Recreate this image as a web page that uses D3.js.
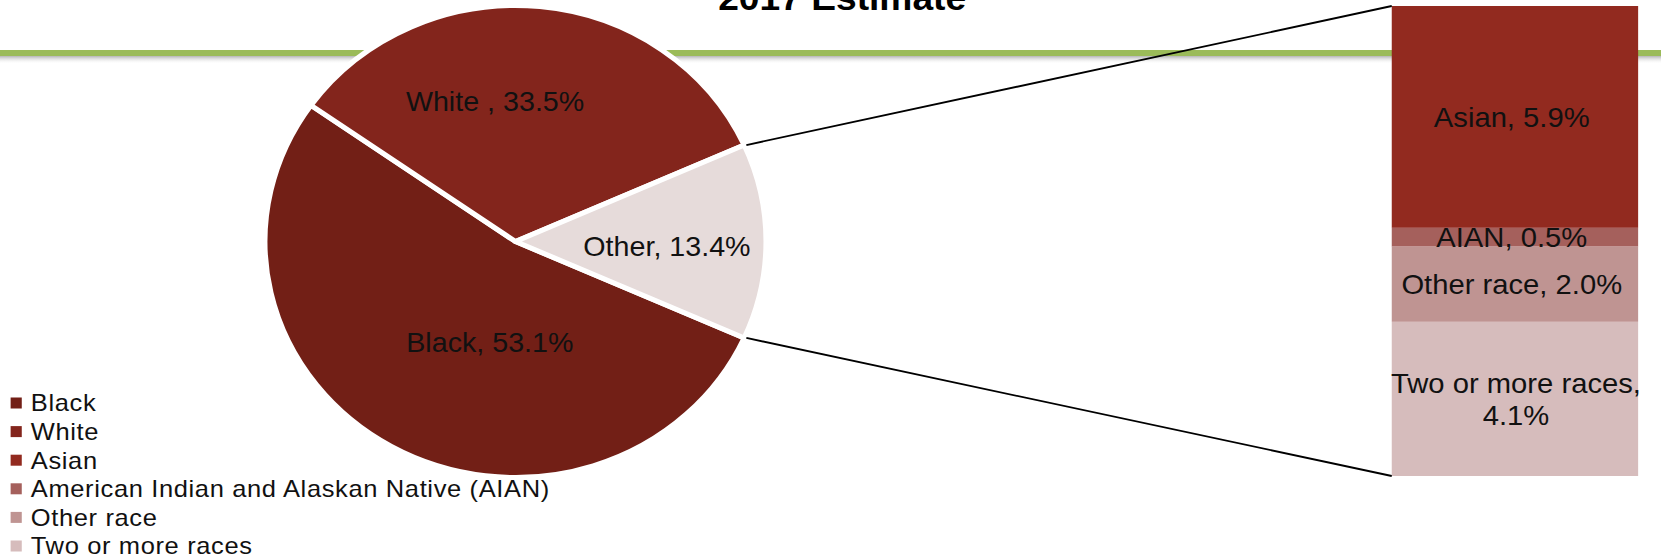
<!DOCTYPE html>
<html>
<head>
<meta charset="utf-8">
<script src="https://cdn.jsdelivr.net/npm/d3@7"></script>
<style>
  html, body { margin: 0; padding: 0; background: #ffffff; }
  svg { display: block; font-family: "Liberation Sans", Arial, sans-serif; }
</style>
</head>
<body>
<svg id="chart" width="1661" height="560"></svg>
<script>
// Population shares by race, 2017 estimate
const titleText = "2017 Estimate";

const pieCategories = ["Black", "White", "Other"];
const pieValues = [53.1, 33.5, 13.4];
const pieLabelNames = ["Black", "White ", "Other"];

const barCategories = ["Asian", "AIAN", "Other race", "Two or more races"];
const barValues = [5.9, 0.5, 2.0, 4.1];

const legendLabels = [
  "Black",
  "White",
  "Asian",
  "American Indian and Alaskan Native (AIAN)",
  "Other race",
  "Two or more races"
];

const pieColors = ["#721f16", "#83251c", "#e6dbda"];
const barColors = ["#922a1f", "#a5605c", "#bf9492", "#d6bcbc"];
const legendColors = ["#721f16", "#83251c", "#922a1f", "#a5605c", "#bf9492", "#d6bcbc"];

// ---- layout ----
const W = 1661, H = 560;
const stretchX = 1.062;            // horizontal stretch applied to the whole drawing
const cx = 485.4, cy = 241.5, R = 236;
const barX = 1310.5, barW = 232, barTop = 6, barBottom = 476;
const fmt = d3.format(".1f");

const svg = d3.select("#chart");

// header rule with a soft shadow beneath it
const defs = svg.append("defs");
const grad = defs.append("linearGradient")
  .attr("id", "ruleShadow").attr("x1", 0).attr("y1", 0).attr("x2", 0).attr("y2", 1);
grad.append("stop").attr("offset", "0%").attr("stop-color", "#b5b5b5");
grad.append("stop").attr("offset", "100%").attr("stop-color", "#ffffff").attr("stop-opacity", 0);

svg.append("rect").attr("x", 0).attr("y", 56).attr("width", W).attr("height", 8)
  .attr("fill", "url(#ruleShadow)");
svg.append("rect").attr("x", 0).attr("y", 50).attr("width", W).attr("height", 6)
  .attr("fill", "#9bbb59");

const g = svg.append("g").attr("transform", `scale(${stretchX},1)`);

// title (sits partly above the top edge)
g.append("text")
  .attr("x", 793).attr("y", 10)
  .attr("text-anchor", "middle")
  .attr("font-weight", "bold")
  .attr("font-size", 35)
  .attr("fill", "#000")
  .text(titleText);

// ---- pie ----
const total = d3.sum(pieValues);
const otherShare = pieValues[pieValues.length - 1] / total;
// rotate so the last slice ("Other") is centred on the 3 o'clock direction
const start = Math.PI / 2 + Math.PI * otherShare;
const pie = d3.pie().sort(null).value(d => d)
  .startAngle(start).endAngle(start + 2 * Math.PI);
const arcs = pie(pieValues);
const arc = d3.arc().innerRadius(0).outerRadius(R);
const labelArc = d3.arc().innerRadius(0).outerRadius(R * 1.2);

const pieG = g.append("g").attr("transform", `translate(${cx},${cy})`);
pieG.selectAll("path.slice")
  .data(arcs)
  .join("path")
  .attr("class", "slice")
  .attr("d", arc)
  .attr("fill", (d, i) => pieColors[i])
  .attr("stroke", "#ffffff")
  .attr("stroke-width", 5)
  .attr("stroke-linejoin", "round");

// label placement offsets from each slice centroid
const pieLabelShift = [[46, -22], [-33, 1], [1, 5]];
pieG.selectAll("text.pielabel")
  .data(arcs)
  .join("text")
  .attr("class", "pielabel")
  .attr("x", (d, i) => labelArc.centroid(d)[0] + pieLabelShift[i][0])
  .attr("y", (d, i) => labelArc.centroid(d)[1] + pieLabelShift[i][1])
  .attr("dy", "0.35em")
  .attr("text-anchor", "middle")
  .attr("font-size", 27)
  .attr("fill", "#111")
  .text((d, i) => `${pieLabelNames[i]}, ${fmt(pieValues[i])}%`);

// ---- stacked bar of the "Other" breakdown ----
const barTotal = d3.sum(barValues);
const y = d3.scaleLinear().domain([0, barTotal]).range([barTop, barBottom]);
const cum = d3.cumsum(barValues);
const segs = barValues.map((v, i) => ({ v, i, y0: i === 0 ? 0 : cum[i - 1], y1: cum[i] }));

g.selectAll("rect.seg")
  .data(segs)
  .join("rect")
  .attr("class", "seg")
  .attr("x", barX)
  .attr("width", barW)
  .attr("y", d => y(d.y0))
  .attr("height", d => y(d.y1) - y(d.y0))
  .attr("fill", d => barColors[d.i]);

// connector lines from the "Other" slice to the bar
const otherArc = arcs[arcs.length - 1];
const edgePt = a => [cx + R * Math.sin(a), cy - R * Math.cos(a)];
const topPt = edgePt(otherArc.startAngle);
const botPt = edgePt(otherArc.endAngle);
const lineGen = d3.line();
g.append("path")
  .attr("d", lineGen([[topPt[0] + 2, topPt[1]], [barX, y(0)]]))
  .attr("stroke", "#000").attr("stroke-width", 1.8).attr("fill", "none");
g.append("path")
  .attr("d", lineGen([[botPt[0] + 2, botPt[1]], [barX, y(barTotal)]]))
  .attr("stroke", "#000").attr("stroke-width", 1.8).attr("fill", "none");

// bar labels, wrapped after the comma when too wide for the bar
const barLabels = g.selectAll("text.barlabel")
  .data(segs)
  .join("text")
  .attr("class", "barlabel")
  .attr("text-anchor", "middle")
  .attr("font-size", 27.5)
  .attr("fill", "#111");

barLabels.each(function (d) {
  const t = d3.select(this);
  const full = `${barCategories[d.i]}, ${fmt(d.v)}%`;
  const xMid = barX + barW / 2 - 3;
  const yMid = (y(d.y0) + y(d.y1)) / 2;
  t.text(full).attr("x", xMid).attr("y", yMid).attr("dy", "0.35em");
  if (this.getComputedTextLength() > barW - 4) {
    t.text(null).attr("dy", null);
    const lines = [`${barCategories[d.i]},`, `${fmt(d.v)}%`];
    const lh = 32;
    lines.forEach((ln, k) => {
      t.append("tspan")
        .attr("x", xMid + 4)
        .attr("y", yMid + (k - (lines.length - 1) / 2) * lh)
        .attr("dy", "0.35em")
        .text(ln);
    });
  }
});

// ---- legend ----
const legend = g.append("g").attr("transform", "translate(10,403)");
const rowH = 28.6;
const items = legend.selectAll("g.item")
  .data(legendLabels)
  .join("g")
  .attr("class", "item")
  .attr("transform", (d, i) => `translate(0,${i * rowH})`);
items.append("rect")
  .attr("x", 0).attr("y", -5.5)
  .attr("width", 10.5).attr("height", 11)
  .attr("fill", (d, i) => legendColors[i]);
items.append("text")
  .attr("x", 19).attr("y", 0)
  .attr("dy", "0.35em")
  .attr("font-size", 24)
  .attr("letter-spacing", 0.6)
  .attr("fill", "#111")
  .text(d => d);
</script>
</body>
</html>
